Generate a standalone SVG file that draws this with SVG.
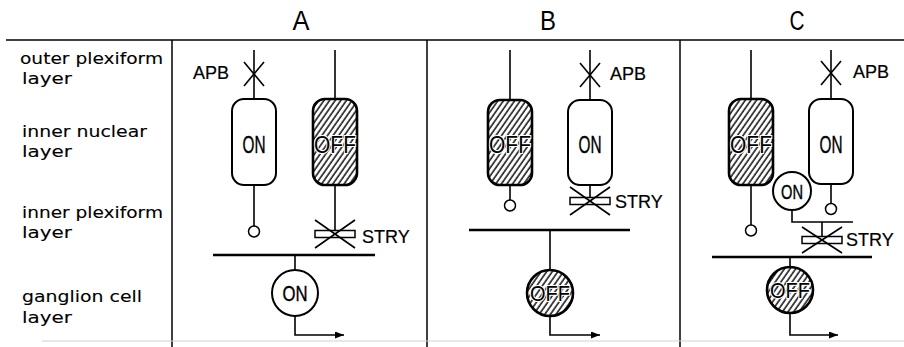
<svg xmlns="http://www.w3.org/2000/svg" width="904" height="347" viewBox="0 0 904 347">
<style>
.ln{stroke:#000;stroke-width:1.6;fill:none}
.bar{stroke:#000;stroke-width:2.6;fill:none}
.cell{fill:#fff;stroke:#000;stroke-width:2}
.hcell{fill:url(#hatch);stroke:#000;stroke-width:2.6}
.syn{fill:#fff;stroke:#000;stroke-width:1.5}
.lbl{font-family:"DejaVu Sans",sans-serif;font-size:15px;fill:#000;stroke:#000;stroke-width:0.1}
.hdr{font-family:"Liberation Sans",Arial,sans-serif;font-size:27px;fill:#000;text-anchor:middle}
.ct{font-family:"Liberation Sans",Arial,sans-serif;font-size:24px;fill:#000;stroke:#000;stroke-width:0.4;text-anchor:middle}
.ctc{font-family:"Liberation Sans",Arial,sans-serif;font-size:22px;fill:#000;stroke:#000;stroke-width:0.4;text-anchor:middle}
.off{stroke:#fff;stroke-width:2.2;paint-order:stroke fill}
.drug{font-family:"Liberation Sans",Arial,sans-serif;font-size:18px;fill:#000;stroke:#000;stroke-width:0.2}
</style>
<defs>
<pattern id="hatch" width="4.6" height="4.6" patternUnits="userSpaceOnUse" patternTransform="rotate(35)">
<rect width="4.6" height="4.6" fill="#fff"/>
<line x1="1" y1="0" x2="1" y2="4.6" stroke="#000" stroke-width="1.4"/>
</pattern>
<marker id="arr" markerWidth="10" markerHeight="8" refX="9" refY="3.5" orient="auto" markerUnits="userSpaceOnUse">
<path d="M0,0 L9,3.5 L0,7 z" fill="#000"/>
</marker>
</defs>
<rect width="904" height="347" fill="#fff"/>

<g id="frame">
<line x1="6" y1="40" x2="904" y2="40" stroke="#000" stroke-width="1.5"/>
<line x1="172" y1="40" x2="172" y2="347" stroke="#000" stroke-width="1.5"/>
<line x1="427" y1="40" x2="427" y2="347" stroke="#000" stroke-width="1.5"/>
<line x1="680" y1="40" x2="680" y2="347" stroke="#000" stroke-width="1.5"/>
<line x1="42" y1="341" x2="904" y2="341" stroke="#d0d0d0" stroke-width="1"/>
<text class="hdr" x="301" y="30" textLength="17" lengthAdjust="spacingAndGlyphs">A</text>
<text class="hdr" x="548" y="30" textLength="16" lengthAdjust="spacingAndGlyphs">B</text>
<text class="hdr" x="797" y="30" textLength="15" lengthAdjust="spacingAndGlyphs">C</text>
</g>

<g id="layer-labels">
<text class="lbl" x="20" y="64" textLength="143" lengthAdjust="spacingAndGlyphs">outer plexiform</text>
<text class="lbl" x="22" y="84" textLength="50" lengthAdjust="spacingAndGlyphs">layer</text>
<text class="lbl" x="22" y="137" textLength="125" lengthAdjust="spacingAndGlyphs">inner nuclear</text>
<text class="lbl" x="22" y="157" textLength="50" lengthAdjust="spacingAndGlyphs">layer</text>
<text class="lbl" x="22" y="218" textLength="141" lengthAdjust="spacingAndGlyphs">inner plexiform</text>
<text class="lbl" x="22" y="238" textLength="50" lengthAdjust="spacingAndGlyphs">layer</text>
<text class="lbl" x="22" y="302" textLength="120" lengthAdjust="spacingAndGlyphs">ganglion cell</text>
<text class="lbl" x="22" y="323" textLength="50" lengthAdjust="spacingAndGlyphs">layer</text>
</g>

<g id="connectors">
<!-- Panel A -->
<line class="ln" x1="254" y1="50" x2="254" y2="99"/>
<line class="ln" x1="254" y1="185" x2="254" y2="226"/>
<line class="ln" x1="335" y1="50" x2="335" y2="99"/>
<line class="ln" x1="335" y1="185" x2="335" y2="234"/>
<line class="bar" x1="213" y1="255" x2="375" y2="255"/>
<line class="ln" x1="295" y1="255" x2="295" y2="270"/>
<polyline class="ln" points="295,316 295,335 344,335" marker-end="url(#arr)"/>
<!-- Panel B -->
<line class="ln" x1="510" y1="50" x2="510" y2="100"/>
<line class="ln" x1="510" y1="185" x2="510" y2="200"/>
<line class="ln" x1="590" y1="50" x2="590" y2="100"/>
<line class="ln" x1="590" y1="185" x2="590" y2="201"/>
<line class="bar" x1="469" y1="230" x2="630" y2="230"/>
<line class="ln" x1="550" y1="230" x2="550" y2="270"/>
<polyline class="ln" points="550,316 550,335 600,335" marker-end="url(#arr)"/>
<!-- Panel C -->
<line class="ln" x1="751" y1="50" x2="751" y2="99"/>
<line class="ln" x1="751" y1="185" x2="751" y2="225"/>
<line class="ln" x1="831" y1="50" x2="831" y2="99"/>
<line class="ln" x1="831" y1="184" x2="831" y2="203.5"/>
<polyline class="ln" points="792,210 792,222 853,222"/>
<line class="ln" x1="822" y1="222" x2="822" y2="240"/>
<line class="bar" x1="712" y1="257" x2="872" y2="257"/>
<line class="ln" x1="790" y1="257" x2="790" y2="267"/>
<polyline class="ln" points="790,313 790,335 838,335" marker-end="url(#arr)"/>
</g>

<!-- Panel A nodes -->
<g id="A-on-bipolar">
<rect class="cell" x="232" y="99" width="44" height="86" rx="12"/>
<text class="ct" x="254" y="152.5" textLength="23" lengthAdjust="spacingAndGlyphs">ON</text>
<circle class="syn" cx="254" cy="231.5" r="5.5"/>
</g>
<g id="A-apb">
<line class="ln" x1="244" y1="62" x2="264" y2="86"/>
<line class="ln" x1="264" y1="62" x2="244" y2="86"/>
<text class="drug" x="193" y="79">APB</text>
</g>
<g id="A-off-bipolar">
<rect class="hcell" x="313" y="99" width="44" height="86" rx="12"/>
<text class="ct off" x="335" y="152.5" textLength="42" lengthAdjust="spacingAndGlyphs">OFF</text>
</g>
<g id="A-stry">
<rect class="syn" x="315" y="230.5" width="40" height="7"/>
<line class="ln" x1="315" y1="220" x2="355" y2="248"/>
<line class="ln" x1="355" y1="220" x2="315" y2="248"/>
<text class="drug" x="362" y="243">STRY</text>
</g>
<g id="A-ganglion">
<circle class="cell" cx="295" cy="293" r="23"/>
<text class="ctc" x="295" y="301" textLength="25" lengthAdjust="spacingAndGlyphs">ON</text>
</g>

<!-- Panel B nodes -->
<g id="B-off-bipolar">
<rect class="hcell" x="488" y="100" width="44" height="85" rx="12"/>
<text class="ct off" x="510" y="152.5" textLength="42" lengthAdjust="spacingAndGlyphs">OFF</text>
<circle class="syn" cx="510" cy="205.5" r="5.5"/>
</g>
<g id="B-on-bipolar">
<rect class="cell" x="568" y="100" width="44" height="85" rx="12"/>
<text class="ct" x="590" y="152.5" textLength="23" lengthAdjust="spacingAndGlyphs">ON</text>
</g>
<g id="B-apb">
<line class="ln" x1="580" y1="63" x2="600" y2="87"/>
<line class="ln" x1="600" y1="63" x2="580" y2="87"/>
<text class="drug" x="610" y="80">APB</text>
</g>
<g id="B-stry">
<rect class="syn" x="570" y="197.5" width="40" height="7"/>
<line class="ln" x1="570" y1="187" x2="610" y2="215"/>
<line class="ln" x1="610" y1="187" x2="570" y2="215"/>
<text class="drug" x="615" y="208">STRY</text>
</g>
<g id="B-ganglion">
<circle class="hcell" cx="550" cy="293" r="23"/>
<text class="ctc off" x="550" y="301" textLength="40" lengthAdjust="spacingAndGlyphs">OFF</text>
</g>

<!-- Panel C nodes -->
<g id="C-off-bipolar">
<rect class="hcell" x="729" y="99" width="44" height="86" rx="12"/>
<text class="ct off" x="751" y="152.5" textLength="42" lengthAdjust="spacingAndGlyphs">OFF</text>
<circle class="syn" cx="751" cy="230.5" r="5.5"/>
</g>
<g id="C-on-bipolar">
<rect class="cell" x="809" y="99" width="44" height="85" rx="12"/>
<text class="ct" x="831" y="152.5" textLength="23" lengthAdjust="spacingAndGlyphs">ON</text>
<circle class="syn" cx="831" cy="209" r="5.5"/>
</g>
<g id="C-apb">
<line class="ln" x1="821" y1="61" x2="841" y2="85"/>
<line class="ln" x1="841" y1="61" x2="821" y2="85"/>
<text class="drug" x="853" y="78">APB</text>
</g>
<g id="C-on-amacrine">
<circle class="cell" cx="792" cy="191" r="19"/>
<text class="ctc" x="792" y="198.5" textLength="22" lengthAdjust="spacingAndGlyphs" style="font-size:20px">ON</text>
</g>
<g id="C-stry">
<rect class="syn" x="802" y="236.5" width="40" height="7"/>
<line class="ln" x1="802" y1="227" x2="842" y2="253"/>
<line class="ln" x1="842" y1="227" x2="802" y2="253"/>
<text class="drug" x="846" y="246">STRY</text>
</g>
<g id="C-ganglion">
<circle class="hcell" cx="790" cy="290" r="23"/>
<text class="ctc off" x="790" y="298" textLength="40" lengthAdjust="spacingAndGlyphs">OFF</text>
</g>
</svg>
